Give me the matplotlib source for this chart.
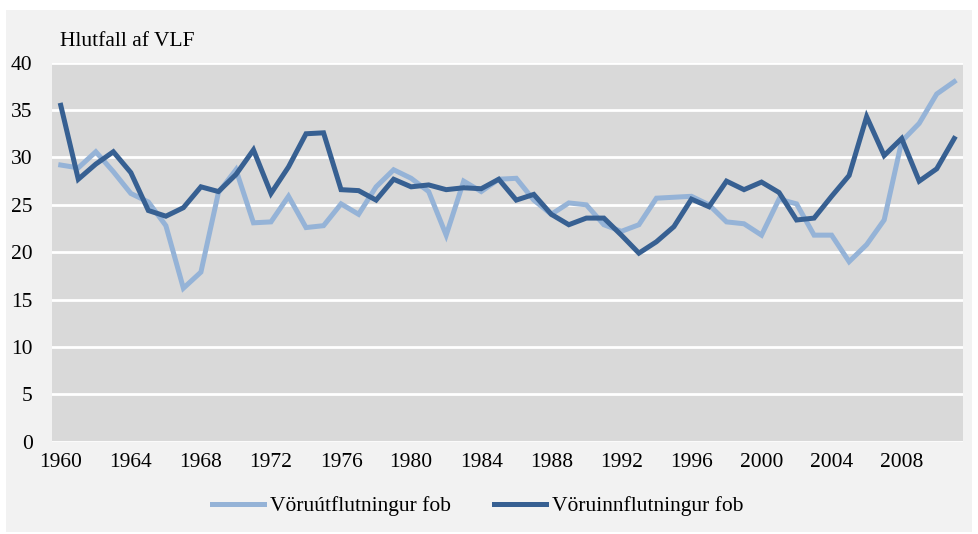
import matplotlib
matplotlib.use("Agg")
import matplotlib.pyplot as plt
from matplotlib.patches import Rectangle
import numpy as np

plt.rcParams['font.family'] = ['Liberation Serif', 'DejaVu Serif']

years = np.arange(1960, 2012)

# Vöruútflutningur fob (hlutfall af VLF)
exports = [29.2, 28.9, 30.6, 28.5, 26.2, 25.3, 22.8, 16.2, 17.9, 26.3,
           28.7, 23.1, 23.2, 25.9, 22.6, 22.8, 25.1, 24.0, 26.9, 28.7,
           27.8, 26.4, 21.8, 27.5, 26.4, 27.7, 27.8, 25.5, 24.0, 25.2,
           25.0, 22.9, 22.2, 22.9, 25.7, 25.8, 25.9, 25.0, 23.2, 23.0,
           21.8, 25.6, 25.1, 21.8, 21.8, 19.0, 20.8, 23.4, 31.7, 33.6,
           36.7, 38.0]

# Vöruinnflutningur fob (hlutfall af VLF)
imports = [35.5, 27.7, 29.3, 30.6, 28.4, 24.4, 23.8, 24.7, 26.9, 26.4,
           28.2, 30.8, 26.2, 29.0, 32.5, 32.6, 26.6, 26.5, 25.5, 27.7,
           26.9, 27.1, 26.6, 26.8, 26.7, 27.7, 25.5, 26.1, 24.0, 22.9,
           23.6, 23.6, 21.8, 19.9, 21.1, 22.7, 25.6, 24.8, 27.5, 26.6,
           27.4, 26.3, 23.4, 23.6, 25.9, 28.1, 34.3, 30.2, 32.0, 27.5,
           28.8, 32.0]

fs = 15.5

fig = plt.figure(figsize=(9.79, 5.34), dpi=100, facecolor='white')
bg = Rectangle((6 / 979, 2 / 534), 966 / 979, 522 / 534,
               transform=fig.transFigure, facecolor='#f2f2f2',
               edgecolor='none', zorder=-10)
fig.add_artist(bg)

ax = fig.add_axes([52 / 979, (534 - 441.7) / 534, 911 / 979, 379 / 534])
ax.set_facecolor('#d9d9d9')

ax.plot(years, exports, color='#95b3d7', lw=3.6, solid_joinstyle='miter',
        label='Vöruútflutningur fob', zorder=3)
ax.plot(years, imports, color='#376092', lw=3.6, solid_joinstyle='miter',
        label='Vöruinnflutningur fob', zorder=4)

ax.set_xlim(1959.5, 2011.5)
ax.set_ylim(0, 40)
ax.set_yticks(np.arange(0, 41, 5))
ax.set_xticks(np.arange(1960, 2009, 4))
ax.yaxis.grid(True, color='white', lw=2)
ax.set_axisbelow(True)
for s in ax.spines.values():
    s.set_visible(False)
ax.tick_params(axis='both', length=0, labelsize=fs, colors='black')
ax.tick_params(axis='y', pad=14)
ax.tick_params(axis='x', pad=8)

fig.text(60 / 979, 1 - 41 / 534, 'Hlutfall af VLF', fontsize=fs,
         ha='left', va='center')

fig.legend(loc='center', bbox_to_anchor=(478 / 979, 1 - 506 / 534),
           ncol=2, frameon=False, fontsize=fs, handlelength=2.4,
           handletextpad=0.3, columnspacing=2.0)

fig.savefig('out.png', dpi=100, facecolor=fig.get_facecolor())
